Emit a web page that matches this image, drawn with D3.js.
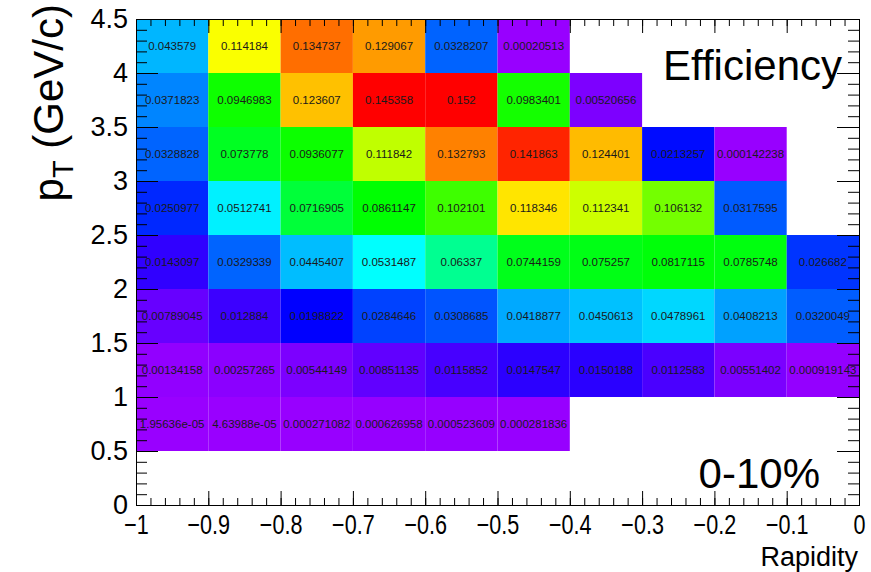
<!DOCTYPE html>
<html>
<head>
<meta charset="utf-8">
<script src="https://cdn.jsdelivr.net/npm/d3@7"></script>
<style>
body { margin: 0; background: #fff; }
svg text { font-family: "Liberation Sans", Arial, sans-serif; }
</style>
</head>
<body>
<svg id="chart" width="871" height="572"></svg>
<script>
// bin low edges
var rapidityLow = [-1.0, -0.9, -0.8, -0.7, -0.6, -0.5, -0.4, -0.3, -0.2, -0.1];
var ptLow = [0.5, 1.0, 1.5, 2.0, 2.5, 3.0, 3.5, 4.0];
var rapidityStep = 0.1, ptStep = 0.5;

// efficiency per pT bin, one value per rapidity bin (null = empty)
var eff_pt0p5 = [1.95636e-05, 4.63988e-05, 0.000271082, 0.000626958, 0.000523609, 0.000281836, null, null, null, null];
var eff_pt1p0 = [0.00134158, 0.00257265, 0.00544149, 0.00851135, 0.0115852, 0.0147547, 0.0150188, 0.0112583, 0.00551402, 0.000919143];
var eff_pt1p5 = [0.00789045, 0.012884, 0.0198822, 0.0284646, 0.0308685, 0.0418877, 0.0450613, 0.0478961, 0.0408213, 0.0320049];
var eff_pt2p0 = [0.0143097, 0.0329339, 0.0445407, 0.0531487, 0.06337, 0.0744159, 0.075257, 0.0817115, 0.0785748, 0.026682];
var eff_pt2p5 = [0.0250977, 0.0512741, 0.0716905, 0.0861147, 0.102101, 0.118346, 0.112341, 0.106132, 0.0317595, null];
var eff_pt3p0 = [0.0328828, 0.073778, 0.0936077, 0.111842, 0.132793, 0.141863, 0.124401, 0.0213257, 0.000142238, null];
var eff_pt3p5 = [0.0371823, 0.0946983, 0.123607, 0.145358, 0.152, 0.0983401, 0.00520656, null, null, null];
var eff_pt4p0 = [0.043579, 0.114184, 0.134737, 0.129067, 0.0328207, 0.00020513, null, null, null, null];
var effRows = [eff_pt0p5, eff_pt1p0, eff_pt1p5, eff_pt2p0, eff_pt2p5, eff_pt3p0, eff_pt3p5, eff_pt4p0];

var xMajor = [-1, -0.9, -0.8, -0.7, -0.6, -0.5, -0.4, -0.3, -0.2, -0.1, 0];
var yMajor = [0, 0.5, 1, 1.5, 2, 2.5, 3, 3.5, 4, 4.5];

var cells = [];
effRows.forEach(function(row, j) {
    row.forEach(function(v, i) {
        if (v != null) cells.push({x0: rapidityLow[i], y0: ptLow[j], v: v});
    });
});

var svg = d3.select("#chart");
svg.append("rect").attr("width", 871).attr("height", 572).attr("fill", "#fff");

var x = d3.scaleLinear().domain([-1, 0]).range([136, 859]);
var y = d3.scaleLinear().domain([0, 4.5]).range([505, 19]);

// rainbow palette, violet -> red
var hue = d3.scaleLinear()
    .domain([0, 0.0055, 0.0199, 0.0531, 0.075, 0.099, 0.1118, 0.1142, 0.1183, 0.133, 0.1454])
    .range([276, 269, 240, 180, 125, 115, 75, 61, 54, 30, 0])
    .clamp(true);
function cellColor(v) { return d3.hsl(hue(v), 1, 0.5).toString(); }

// like printf %g
function fmtG(v) {
    var e = Math.floor(Math.log10(Math.abs(v)));
    if (e < -4) {
        var s = v.toExponential(5).replace(/\.?0+e/, "e");
        return s.replace(/e([+-])(\d)$/, "e$10$2");
    }
    return String(+v.toPrecision(6));
}

svg.append("g").selectAll("rect")
    .data(cells)
    .enter()
    .append("rect")
    .attr("x", function(d) { return x(d.x0); })
    .attr("y", function(d) { return y(d.y0 + ptStep); })
    .attr("width", function(d) { return x(d.x0 + rapidityStep) - x(d.x0); })
    .attr("height", function(d) { return y(d.y0) - y(d.y0 + ptStep); })
    .attr("fill", function(d) { return cellColor(d.v); });

// ticks
var xMinor = d3.range(51).map(function(i) { return -1 + i * 0.02; });
var yMinor = d3.range(46).map(function(i) { return i * 0.1; });

function styleAxis(g) {
    g.select(".domain").remove();
    g.attr("font-family", "Liberation Sans, Arial, sans-serif").attr("font-size", 27);
    g.selectAll("text").attr("fill", "#000");
}

var gx = svg.append("g").attr("transform", "translate(0,505)")
    .call(d3.axisBottom(x).tickValues(xMajor).tickSize(-14).tickPadding(10).tickFormat(d3.format("~g")))
    .call(styleAxis);
// condensed labels like the original
gx.selectAll(".tick text").attr("transform", "scale(0.8,1)");

svg.append("g").attr("transform", "translate(0,505)")
    .call(d3.axisBottom(x).tickValues(xMinor).tickSize(-7).tickFormat(""))
    .call(styleAxis);
svg.append("g").attr("transform", "translate(0,19)")
    .call(d3.axisTop(x).tickValues(xMajor).tickSize(-14).tickFormat(""))
    .call(styleAxis);
svg.append("g").attr("transform", "translate(0,19)")
    .call(d3.axisTop(x).tickValues(xMinor).tickSize(-7).tickFormat(""))
    .call(styleAxis);

svg.append("g").attr("transform", "translate(136,0)")
    .call(d3.axisLeft(y).tickValues(yMajor).tickSize(-22).tickPadding(8).tickFormat(d3.format("~g")))
    .call(styleAxis);
svg.append("g").attr("transform", "translate(136,0)")
    .call(d3.axisLeft(y).tickValues(yMinor).tickSize(-11).tickFormat(""))
    .call(styleAxis);
svg.append("g").attr("transform", "translate(859,0)")
    .call(d3.axisRight(y).tickValues(yMajor).tickSize(-22).tickFormat(""))
    .call(styleAxis);
svg.append("g").attr("transform", "translate(859,0)")
    .call(d3.axisRight(y).tickValues(yMinor).tickSize(-11).tickFormat(""))
    .call(styleAxis);

// frame
svg.append("rect")
    .attr("x", 136.5).attr("y", 19.5)
    .attr("width", 723).attr("height", 486)
    .attr("fill", "none").attr("stroke", "#000").attr("stroke-width", 1);

// cell values
svg.append("g").selectAll("text")
    .data(cells)
    .enter()
    .append("text")
    .attr("x", function(d) { return x(d.x0 + rapidityStep / 2); })
    .attr("y", function(d) { return y(d.y0 + ptStep / 2) + 4; })
    .attr("text-anchor", "middle")
    .attr("font-size", 11.5)
    .attr("fill", "#1a1a1a")
    .text(function(d) { return fmtG(d.v); });

// titles
svg.append("text")
    .attr("x", 858).attr("y", 566)
    .attr("text-anchor", "end")
    .attr("font-size", 27)
    .text("Rapidity");

var yt = svg.append("text")
    .attr("transform", "translate(63,4) rotate(-90)")
    .attr("text-anchor", "end")
    .attr("font-size", 42);
yt.append("tspan").text("p");
yt.append("tspan").attr("font-size", 29).attr("dy", 10).text("T");
yt.append("tspan").attr("dy", -10).text(" (GeV/c)");

svg.append("text")
    .attr("x", 842).attr("y", 80)
    .attr("text-anchor", "end")
    .attr("font-size", 42)
    .text("Efficiency");

svg.append("text")
    .attr("x", 820).attr("y", 488)
    .attr("text-anchor", "end")
    .attr("font-size", 42)
    .text("0-10%");
</script>
</body>
</html>
